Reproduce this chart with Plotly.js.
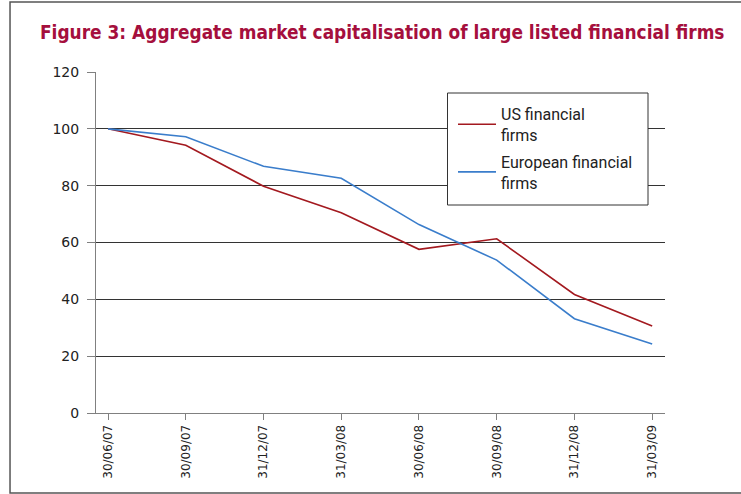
<!DOCTYPE html>
<html>
<head>
<meta charset="utf-8">
<script src="https://cdn.plot.ly/plotly-3.0.1.min.js"></script>
<style>
html,body{margin:0;padding:0;background:#fff;}
#chart{width:741px;height:494px;}
</style>
</head>
<body>
<div id="chart"></div>
<script>
var dates = ["30/06/07","30/09/07","31/12/07","31/03/08","30/06/08","30/09/08","31/12/08","31/03/09"];
var usFinancial = [100, 94.2, 79.8, 70.5, 57.6, 61.3, 41.7, 30.6];
var europeanFinancial = [100, 97.2, 86.8, 82.6, 66.3, 53.8, 33.2, 24.3];
var seriesNames = ["US financial<br>firms", "European financial<br>firms"];
var yTicks = [0, 20, 40, 60, 80, 100, 120];

var traces = [
  {x: dates, y: usFinancial, name: seriesNames[0], legendgroup: "us", type: "scatter", mode: "lines",
   line: {color: "#a3191f", width: 1.6}},
  {x: dates, y: europeanFinancial, name: seriesNames[1], legendgroup: "eu", type: "scatter", mode: "lines",
   line: {color: "#3a7dcb", width: 1.6}}
];

var layout = {
  width: 741, height: 494,
  margin: {l: 96, r: 76, t: 72, b: 81, pad: 0},
  paper_bgcolor: "#fff", plot_bgcolor: "#fff",
  showlegend: true,
  title: {
    text: "Figure 3: Aggregate market capitalisation of large listed financial firms",
    font: {family: "DejaVu Sans Condensed, sans-serif", size: 18.9, color: "#a50f3d", weight: "bold", stretch: "condensed"},
    x: 40/741, xanchor: "left", xref: "container",
    y: 1 - 32/494, yanchor: "middle", yref: "container"
  },
  xaxis: {
    type: "category",
    range: [-0.155, 7.165],
    showgrid: false, zeroline: false,
    showline: true, linecolor: "#808080", linewidth: 1,
    ticks: "outside", ticklen: 6, tickcolor: "#808080", tickwidth: 1,
    tickangle: -90,
    tickfont: {family: "DejaVu Sans, Verdana, sans-serif", size: 12, color: "#222"},
    fixedrange: true
  },
  yaxis: {
    range: [0, 120],
    tickvals: yTicks,
    showgrid: true, gridcolor: "#333", gridwidth: 1,
    zeroline: false,
    showline: true, linecolor: "#808080", linewidth: 1,
    ticks: "outside", ticklen: 8, tickcolor: "#808080", tickwidth: 1,
    tickfont: {family: "DejaVu Sans, Verdana, sans-serif", size: 14, color: "#222"},
    ticklabelstandoff: 5,
    fixedrange: true
  },
  legend: {
    x: (453 - 96)/569, xanchor: "left",
    y: (413 - 97)/341, yanchor: "top",
    bgcolor: "rgba(0,0,0,0)", borderwidth: 0,
    itemwidth: 38,
    font: {family: "Roboto, Noto Sans, sans-serif", size: 16, color: "#222"},
    tracegroupgap: 3
  },
  shapes: [
    {type: "rect", xref: "paper", yref: "paper", layer: "above",
     x0: (447.5 - 96)/569, x1: (648 - 96)/569, y0: (413 - 205)/341, y1: (413 - 93)/341,
     fillcolor: "#fff", line: {color: "#333", width: 1}},
    {type: "path", xref: "paper", yref: "paper", layer: "above",
     path: "M 1.2,1.2053 L -0.1511,1.2053 L -0.1511,-0.2346 L 1.2,-0.2346",
     line: {color: "#555", width: 1.5}}
  ]
};

Plotly.newPlot("chart", traces, layout, {displayModeBar: false, staticPlot: true});
</script>
</body>
</html>
